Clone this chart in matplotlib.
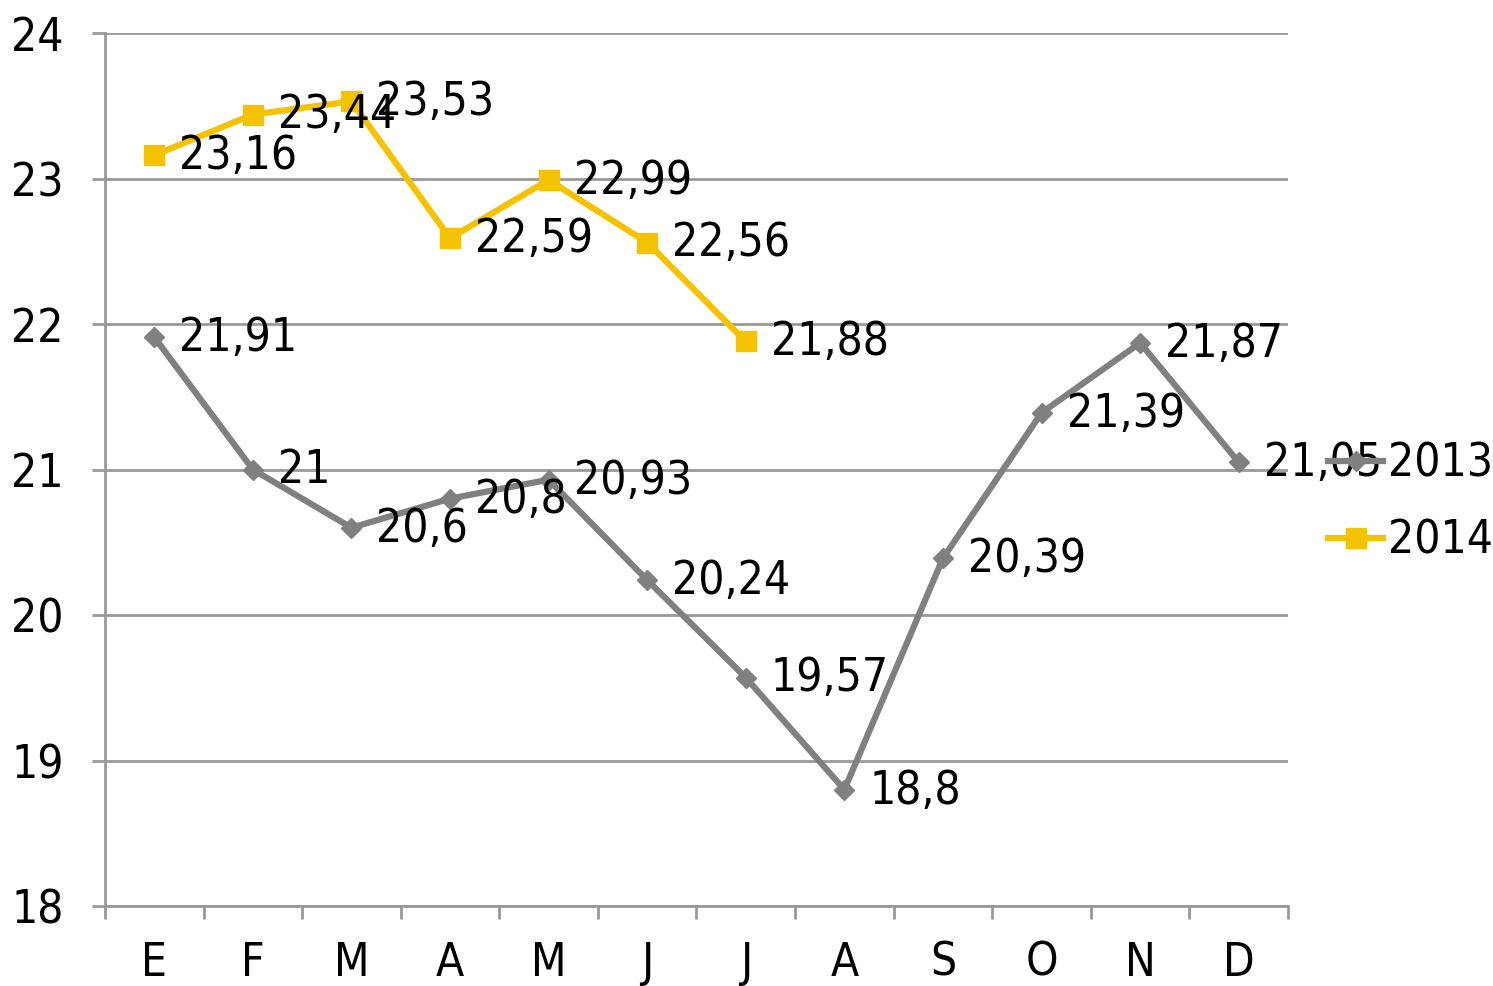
import matplotlib
matplotlib.use("Agg")
import matplotlib.pyplot as plt
from matplotlib.ticker import MultipleLocator

months = ["E", "F", "M", "A", "M", "J", "J", "A", "S", "O", "N", "D"]
v2013 = [21.91, 21, 20.6, 20.8, 20.93, 20.24, 19.57, 18.8, 20.39, 21.39, 21.87, 21.05]
v2014 = [23.16, 23.44, 23.53, 22.59, 22.99, 22.56, 21.88]

GRAY = "#808080"
YELLOW = "#F5C200"
GRID = "#999999"
FS = 33

plt.rcParams["font.family"] = ["DejaVu Sans"]
plt.rcParams["font.stretch"] = "condensed"

fig = plt.figure(figsize=(14.93, 9.86), dpi=100)
ax = fig.add_axes([0.0703, 0.0811, 0.7924, 0.8854])

x13 = list(range(len(v2013)))
x14 = list(range(len(v2014)))
ax.plot(x13, v2013, color=GRAY, lw=4.5, marker="D", ms=10, label="2013", zorder=3)
ax.plot(x14, v2014, color=YELLOW, lw=4.5, marker="s", ms=14, label="2014", zorder=3)


def fmt(v):
    s = f"{v:g}"
    return s.replace(".", ",")


# data labels sit just right of each point
for xs, vs in ((x13, v2013), (x14, v2014)):
    for x, v in zip(xs, vs):
        ax.annotate(fmt(v), (x, v), xytext=(18, -1), textcoords="offset points",
                    ha="left", va="center", fontsize=FS, zorder=5)

ax.set_xlim(-0.5, 11.5)
ax.set_ylim(18, 24)
ax.yaxis.set_major_locator(MultipleLocator(1))
ax.set_xticks(x13)
ax.set_xticklabels(months)
ax.set_xticks([i - 0.5 for i in range(13)], minor=True)
ax.tick_params(axis="x", which="major", length=0, pad=25, labelsize=FS)
ax.tick_params(axis="x", which="minor", length=9.5, width=2, color=GRID, direction="out")
ax.tick_params(axis="y", length=9.5, width=2, color=GRID, direction="out", pad=20, labelsize=FS)

ax.grid(axis="y", color=GRID, lw=2, zorder=0)
ax.set_axisbelow(True)
for s in ("top", "right"):
    ax.spines[s].set_visible(False)
for s in ("left", "bottom"):
    ax.spines[s].set_color(GRID)
    ax.spines[s].set_linewidth(2)

leg = ax.legend(loc="center left", bbox_to_anchor=(1.034, 0.462), frameon=False,
                fontsize=FS, handlelength=1.2, handletextpad=0.1, labelspacing=0.7,
                borderpad=0, borderaxespad=0)

fig.savefig("out.png", dpi=100)
